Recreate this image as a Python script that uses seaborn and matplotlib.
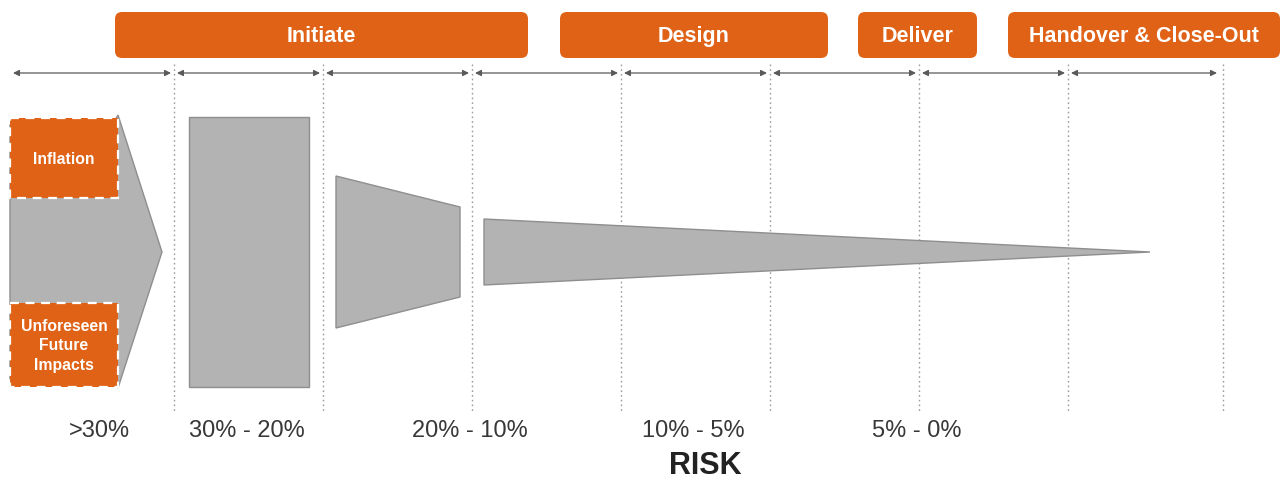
import numpy as np
import matplotlib
matplotlib.use("Agg")
import matplotlib.pyplot as plt
import seaborn as sns
from matplotlib.patches import FancyBboxPatch, Rectangle, Polygon

# ---- content ----
phases = ["Initiate", "Design", "Deliver", "Handover & Close-Out"]
risk_bands = [">30%", "30% - 20%", "20% - 10%", "10% - 5%", "5% - 0%"]
drivers = ["Inflation", "Unforeseen\nFuture\nImpacts"]
# remaining risk envelope (half-height) at the start and end of each stage
envelope_start = [135, 135, 76, 33]
envelope_end = [0, 135, 45, 0]

sns.set_theme(style="white")
plt.rcParams["font.family"] = ["Liberation Sans", "DejaVu Sans"]

ORANGE = "#E06216"
GREY_FILL = "#B3B3B3"
GREY_EDGE = "#8E8E8E"
TEXT = "#383838"

W, H = 1282, 479
fig = plt.figure(figsize=(W / 100, H / 100), dpi=100)
ax = fig.add_axes([0, 0, 1, 1])
ax.set_xlim(0, W)
ax.set_ylim(H, 0)
ax.axis("off")

# ---- column grid ----
edges = np.append(174 + 149 * np.arange(7), 1223)
for x in edges:
    ax.plot([x, x], [64, 413], color="#9C9C9C", lw=1, ls=(0, (1.2, 2.2)), zorder=1)

starts = np.concatenate([[10], edges[:-1]])
ends = edges.astype(float).copy()
ends[-1] -= 3
for x0, x1 in zip(starts, ends):
    ax.annotate("", xy=(x1 - 3, 73), xytext=(x0 + 3, 73),
                arrowprops=dict(arrowstyle="<|-|>", color="#5A5A5A", lw=0.9,
                                mutation_scale=9, shrinkA=0, shrinkB=0), zorder=2)

# ---- phase banners ----
banner_spans = [(115, 528), (560, 828), (858, 977), (1008, 1280)]
for name, (x0, x1) in zip(phases, banner_spans):
    ax.add_patch(FancyBboxPatch((x0, 12), x1 - x0, 46,
                                boxstyle="round,pad=0,rounding_size=7",
                                fc=ORANGE, ec="none", zorder=3))
    ax.text((x0 + x1) / 2, 36, name, color="white", fontsize=15.5,
            fontweight="bold", ha="center", va="center", zorder=4)

# ---- risk envelope shapes ----
mid = 252
# incoming arrow (drivers); its left part sits behind the driver boxes
h0 = envelope_start[0]
ax.add_patch(Polygon([(10, mid - h0 + 8), (112, mid - h0 + 8), (118, mid - h0 - 2),
                      (162, mid), (118, mid + h0 + 1), (112, mid + h0 - 8),
                      (10, mid + h0 - 8)],
                     closed=True, fc=GREY_FILL, ec=GREY_EDGE, lw=1, zorder=2))
# block
ax.add_patch(Polygon([(189, mid - envelope_start[1]), (309, mid - envelope_end[1]),
                      (309, mid + envelope_end[1]), (189, mid + envelope_start[1])],
                     closed=True, fc=GREY_FILL, ec=GREY_EDGE, lw=1, zorder=2))
# narrowing trapezoid
ax.add_patch(Polygon([(336, mid - envelope_start[2]), (460, mid - envelope_end[2]),
                      (460, mid + envelope_end[2]), (336, mid + envelope_start[2])],
                     closed=True, fc=GREY_FILL, ec=GREY_EDGE, lw=1, zorder=2))
# tapering wedge
ax.add_patch(Polygon([(484, mid - envelope_start[3]), (1150, mid - envelope_end[3]),
                      (1150, mid + envelope_end[3]), (484, mid + envelope_start[3])],
                     closed=True, fc=GREY_FILL, ec=GREY_EDGE, lw=1, zorder=2))

# ---- risk drivers ----
driver_boxes = [(118, 198), (303, 387)]
for label, (y0, y1) in zip(drivers, driver_boxes):
    ax.add_patch(Rectangle((10, y0), 108, y1 - y0, fc=ORANGE, ec="white",
                           lw=1.6, ls=(0, (4, 3)), zorder=3))
    ax.text(64, (y0 + y1) / 2 + 1, label, color="white", fontsize=11.3,
            fontweight="bold", ha="center", va="center", linespacing=1.38, zorder=4)

# ---- risk bands ----
band_x = [99, 247, 470, 693, 917]
for label, x in zip(risk_bands, band_x):
    ax.text(x, 431, label, color=TEXT, fontsize=17, ha="center", va="center")

ax.text(705, 466, "RISK", color="#222222", fontsize=22, fontweight="bold",
        ha="center", va="center")

fig.savefig("out.png", dpi=100, facecolor="white")
